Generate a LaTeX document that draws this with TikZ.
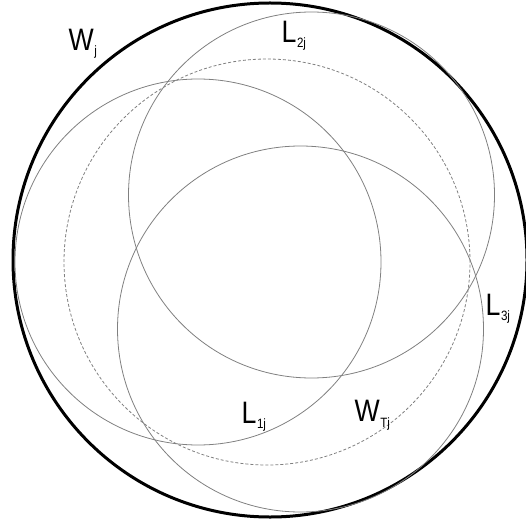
\documentclass[tikz,border=0pt]{standalone}
\usepackage{fontspec}
\newfontfamily\lab[FakeStretch=0.86]{Liberation Sans}
\tikzset{
  outer/.style={draw=black, line width=3pt, circle, inner sep=0pt},
  lcirc/.style={draw=black!50, line width=0.8pt, circle, inner sep=0pt, minimum size=366pt},
  tcirc/.style={draw=black!50, line width=0.8pt, dash pattern=on 3pt off 2pt, circle, inner sep=0pt, minimum size=406pt},
  lbl/.style={anchor=base west, inner sep=0pt, font=\lab\fontsize{31}{31}\selectfont},
}
\newcommand{\sbs}[1]{\kern0.5pt\raisebox{-5.4pt}{\fontsize{13.5}{13.5}\selectfont #1}}
\begin{document}
\begin{tikzpicture}[x=1pt, y=-1pt]
\useasboundingbox (0,0) rectangle (525,529);
\node[outer, minimum size=514pt] (W) at (270,260) {};
\node[tcirc] (WT) at (267,262) {};
\node[lcirc] (L1) at (198,262) {};
\node[lcirc] (L2) at (311.5,195) {};
\node[lcirc] (L3) at (300.5,329) {};
\node[lbl] (tW) at (68.5,50.5) {W\sbs{j}};
\node[lbl] (tL2) at (281.5,42.3) {L\sbs{2j}};
\node[lbl] (tL3) at (485.5,315) {L\sbs{3j}};
\node[lbl] (tL1) at (241.5,423.3) {L\sbs{1j}};
\node[lbl] (tWT) at (354.5,421.7) {W\sbs{Tj}};
\end{tikzpicture}
\end{document}
